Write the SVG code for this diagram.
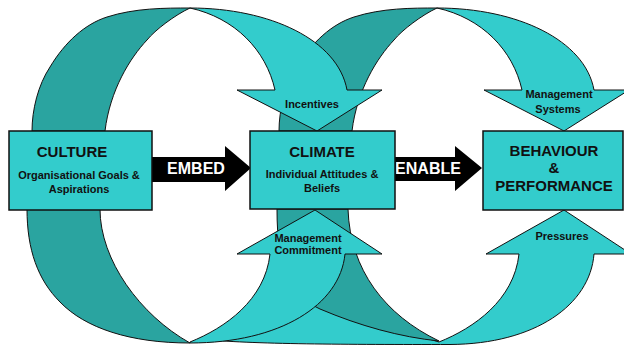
<svg xmlns="http://www.w3.org/2000/svg" xmlns:xlink="http://www.w3.org/1999/xlink" width="624" height="345" viewBox="0 0 624 345">
  <style>
    .light { fill: #33CCCC; stroke: #111; stroke-width: 1; stroke-linejoin: round; }
    .dark { fill: #2AA4A0; stroke: #111; stroke-width: 1; stroke-linejoin: round; }
    .box { fill: #33CCCC; stroke: #111; stroke-width: 1.5; }
    .flow { fill: #000; }
    text { font-family: "Liberation Sans", Arial, sans-serif; font-weight: bold; fill: #111; text-anchor: middle; }
    .head { font-size: 15px; }
    .sub { font-size: 11px; }
    .tag { font-size: 11px; }
    .flowtxt { font-size: 16px; fill: #fff; }
  </style>
  <defs>
    <!-- upper half of a loop: shaded back strip rising from a box, front strip falling onto the next box -->
    <path id="topBack" class="dark" d="M32,131 C32,110 38,85 50,67 C65,42 85,24 107,17 C135,8 165,8 190,8 C175,15 155,30 147,40 C130,58 110,90 105,131 Z"/>
    <path id="topFront" class="light" d="M190,8 C270,8 338,40 347,90 L382,90 L317,131 L237,90 L275,90 C266,50 235,18 190,8 Z"/>
  </defs>

  <g id="connectors">
    <!-- upper loops: shaded strips first, front strips over them -->
    <use xlink:href="#topBack" transform="translate(247,0)"/>
    <use xlink:href="#topBack"/>
    <use xlink:href="#topFront"/>
    <use xlink:href="#topFront" transform="translate(247,0)"/>

    <!-- lower right loop: front strip (with its thin tail along the bottom), then its shaded strip -->
    <path class="light" d="M439,342 C474,328 514,300 519,254 L486,254 L564,210 L631,254 L594,254 C590,305 535,344 450,344.5 C350,344.5 250,344.5 200,339 L300,300 Z"/>
    <path class="dark" d="M277,209 C277,270 290,295 320,309 C360,326 400,337 439,341 C385,315 350,270 348,209 Z"/>

    <!-- lower left loop -->
    <path class="dark" d="M27,209 C27,250 38,280 60,302 C85,328 130,343 190,343 C140,315 100,260 100,209 Z"/>
    <path class="light" d="M190,342 C225,328 265,300 270,254 L237,254 L315,210 L382,254 L345,254 C340,305 280,343 190,343 Z"/>

    <text class="tag" x="312" y="108">Incentives</text>
    <text class="tag" x="559" y="98">Management</text>
    <text class="tag" x="558" y="113">Systems</text>
    <text class="tag" x="308" y="242">Management</text>
    <text class="tag" x="308" y="254">Commitment</text>
    <text class="tag" x="562" y="240">Pressures</text>

    <g id="embed">
      <polygon class="flow" points="151,157 225,157 225,146 251,168 225,191 225,182 151,182"/>
      <text class="flowtxt" x="196" y="174">EMBED</text>
    </g>
    <g id="enable">
      <polygon class="flow" points="393,157 455,157 455,146 482,168 455,191 455,181 393,181"/>
      <text class="flowtxt" x="428" y="174">ENABLE</text>
    </g>
  </g>

  <g id="culture">
    <rect class="box" x="9" y="131" width="143" height="79"/>
    <text class="head" x="72" y="157">CULTURE</text>
    <text class="sub" x="79" y="179">Organisational Goals &amp;</text>
    <text class="sub" x="79" y="193">Aspirations</text>
  </g>

  <g id="climate">
    <rect class="box" x="250" y="131" width="145" height="78"/>
    <text class="head" x="322" y="157">CLIMATE</text>
    <text class="sub" x="322" y="178">Individual Attitudes &amp;</text>
    <text class="sub" x="322" y="192">Beliefs</text>
  </g>

  <g id="behaviour">
    <rect class="box" x="483" y="131" width="140" height="79"/>
    <text class="head" x="554" y="156">BEHAVIOUR</text>
    <text class="head" x="554" y="173">&amp;</text>
    <text class="head" x="554" y="191">PERFORMANCE</text>
  </g>
</svg>
